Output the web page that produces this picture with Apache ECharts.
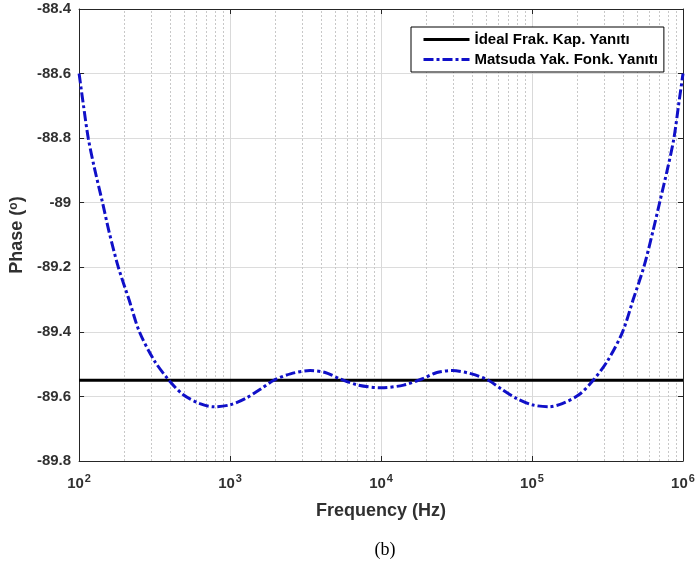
<!DOCTYPE html>
<html>
<head>
<meta charset="utf-8">
<script src="https://cdn.jsdelivr.net/npm/echarts@6/dist/echarts.min.js"></script>
<style>
  html, body { margin: 0; padding: 0; background: #ffffff; }
  #chart { width: 699px; height: 571px; }
</style>
</head>
<body>
<div id="chart"></div>
<script>
// Frequency points (Hz) of the Matsuda approximation response
const freqHz = [
  100, 107, 115, 126, 143, 158, 182, 214, 251, 316, 394, 490, 631, 776,
  1000, 1259, 1585, 1950, 2512, 3388, 4266, 5370, 7079, 10000,
  14125, 18621, 23442, 29512, 39811, 51286, 63096, 79433, 100000,
  128825, 158489, 204174, 254097, 316228, 398107, 467735, 549541,
  630957, 699842, 794328, 870964, 933254, 1000000
];
// Phase (degrees) of the Matsuda approximation at freqHz
const matsudaPhase = [
  -88.60, -88.70, -88.80, -88.89, -89.00, -89.09, -89.20, -89.30, -89.40, -89.49, -89.55, -89.595, -89.622, -89.632,
  -89.626, -89.607, -89.578, -89.55, -89.530, -89.520, -89.526, -89.546, -89.565, -89.573,
  -89.565, -89.546, -89.526, -89.520, -89.530, -89.55, -89.578, -89.607, -89.626,
  -89.632, -89.622, -89.595, -89.55, -89.49, -89.40, -89.30, -89.20,
  -89.09, -89.00, -88.89, -88.80, -88.70, -88.60
];
// Ideal fractional-order capacitor: constant phase
const idealFreq = [100, 1000000];
const idealPhase = [-89.55, -89.55];

const seriesNames = ['İdeal Frak. Kap. Yanıtı', 'Matsuda Yak. Fonk. Yanıtı'];
const decadeStarts = [100, 1000, 10000, 100000];
const minorMultipliers = [2, 3, 4, 5, 6, 7, 8, 9];

// dotted minor grid lines at 2..9 x each decade
const minorLines = [];
decadeStarts.forEach(d => minorMultipliers.forEach(m => minorLines.push({ xAxis: d * m })));

const FONT = '"Liberation Sans", Arial, sans-serif';
const TXT = '#303030';
const AXIS = '#262626';

const chart = echarts.init(document.getElementById('chart'), null, { renderer: 'canvas' });

const logAxisBase = {
  type: 'log',
  logBase: 10,
  min: 100,
  max: 1000000,
  axisLine: { show: true, onZero: false, lineStyle: { color: AXIS, width: 1 } },
  axisTick: { show: true, inside: true, length: 5, lineStyle: { color: AXIS } },
  minorTick: { show: false }
};
const valAxisBase = {
  type: 'value',
  min: -89.8,
  max: -88.4,
  interval: 0.2,
  axisLine: { show: true, onZero: false, lineStyle: { color: AXIS, width: 1 } },
  axisTick: { show: true, inside: true, length: 5, lineStyle: { color: AXIS } }
};

chart.setOption({
  backgroundColor: '#ffffff',
  animation: false,
  title: {
    text: '(b)',
    left: 380,
    top: 536,
    textAlign: 'center',
    textStyle: { fontFamily: '"Liberation Serif", "Times New Roman", serif', fontSize: 18, fontWeight: 'normal', color: '#000000' }
  },
  grid: { left: 78, top: 9, width: 605, height: 452, containLabel: false },
  legend: {
    orient: 'vertical',
    left: 411,
    top: 27,
    padding: [5, 6, 5, 11],
    itemGap: 5,
    itemWidth: 46,
    itemHeight: 14,
    backgroundColor: '#ffffff',
    borderColor: '#000000',
    borderWidth: 1,
    borderRadius: 0,
    itemStyle: { opacity: 0 },
    lineStyle: { width: 3 },
    textStyle: { fontFamily: FONT, fontSize: 15, fontWeight: 'bold', color: '#000000' },
    data: seriesNames
  },
  xAxis: [
    Object.assign({}, logAxisBase, {
      position: 'bottom',
      name: 'Frequency (Hz)',
      nameLocation: 'middle',
      nameGap: 41,
      nameTextStyle: { fontFamily: FONT, fontSize: 18, fontWeight: 'bold', color: TXT },
      axisLabel: {
        show: true,
        margin: 12,
        formatter: v => '{b|10}{s|' + Math.round(Math.log10(v)) + '}',
        rich: {
          b: { fontFamily: FONT, fontSize: 15, fontWeight: 'bold', color: TXT, lineHeight: 18, verticalAlign: 'bottom' },
          s: { fontFamily: FONT, fontSize: 11, fontWeight: 'bold', color: TXT, verticalAlign: 'top', padding: [0, 0, 0, 1] }
        }
      },
      splitLine: { show: true, lineStyle: { color: '#d9d9d9', width: 1 } }
    }),
    Object.assign({}, logAxisBase, {
      position: 'top',
      axisLabel: { show: false },
      splitLine: { show: false }
    })
  ],
  yAxis: [
    Object.assign({}, valAxisBase, {
      position: 'left',
      name: 'Phase ({s|o})',
      nameLocation: 'middle',
      nameGap: 52,
      nameRotate: 90,
      nameTextStyle: {
        fontFamily: FONT, fontSize: 18, fontWeight: 'bold', color: TXT,
        rich: { s: { fontFamily: FONT, fontSize: 12, fontWeight: 'bold', color: TXT, verticalAlign: 'top' } }
      },
      axisLabel: {
        show: true,
        margin: 8,
        fontFamily: FONT, fontSize: 15, fontWeight: 'bold', color: TXT,
        formatter: v => String(Math.round(v * 10) / 10)
      },
      splitLine: { show: true, lineStyle: { color: '#dcdcdc', width: 1 } }
    }),
    Object.assign({}, valAxisBase, {
      position: 'right',
      axisLabel: { show: false },
      splitLine: { show: false }
    })
  ],
  series: [
    {
      name: seriesNames[0],
      type: 'line',
      xAxisIndex: 0,
      yAxisIndex: 0,
      symbol: 'none',
      data: idealFreq.map((f, i) => [f, idealPhase[i]]),
      lineStyle: { color: '#000000', width: 3 },
      itemStyle: { color: '#000000' },
      z: 3,
      markLine: {
        silent: true,
        symbol: 'none',
        label: { show: false },
        lineStyle: { color: '#c8c8c8', width: 1, type: [2, 2] },
        data: minorLines,
        z: 1
      }
    },
    {
      name: seriesNames[1],
      type: 'line',
      xAxisIndex: 0,
      yAxisIndex: 0,
      symbol: 'none',
      smooth: 0.3,
      data: freqHz.map((f, i) => [f, matsudaPhase[i]]),
      lineStyle: { color: '#1010c8', width: 3, type: [10, 3, 3, 3] },
      itemStyle: { color: '#1010c8' },
      z: 4
    }
  ]
});
</script>
</body>
</html>
